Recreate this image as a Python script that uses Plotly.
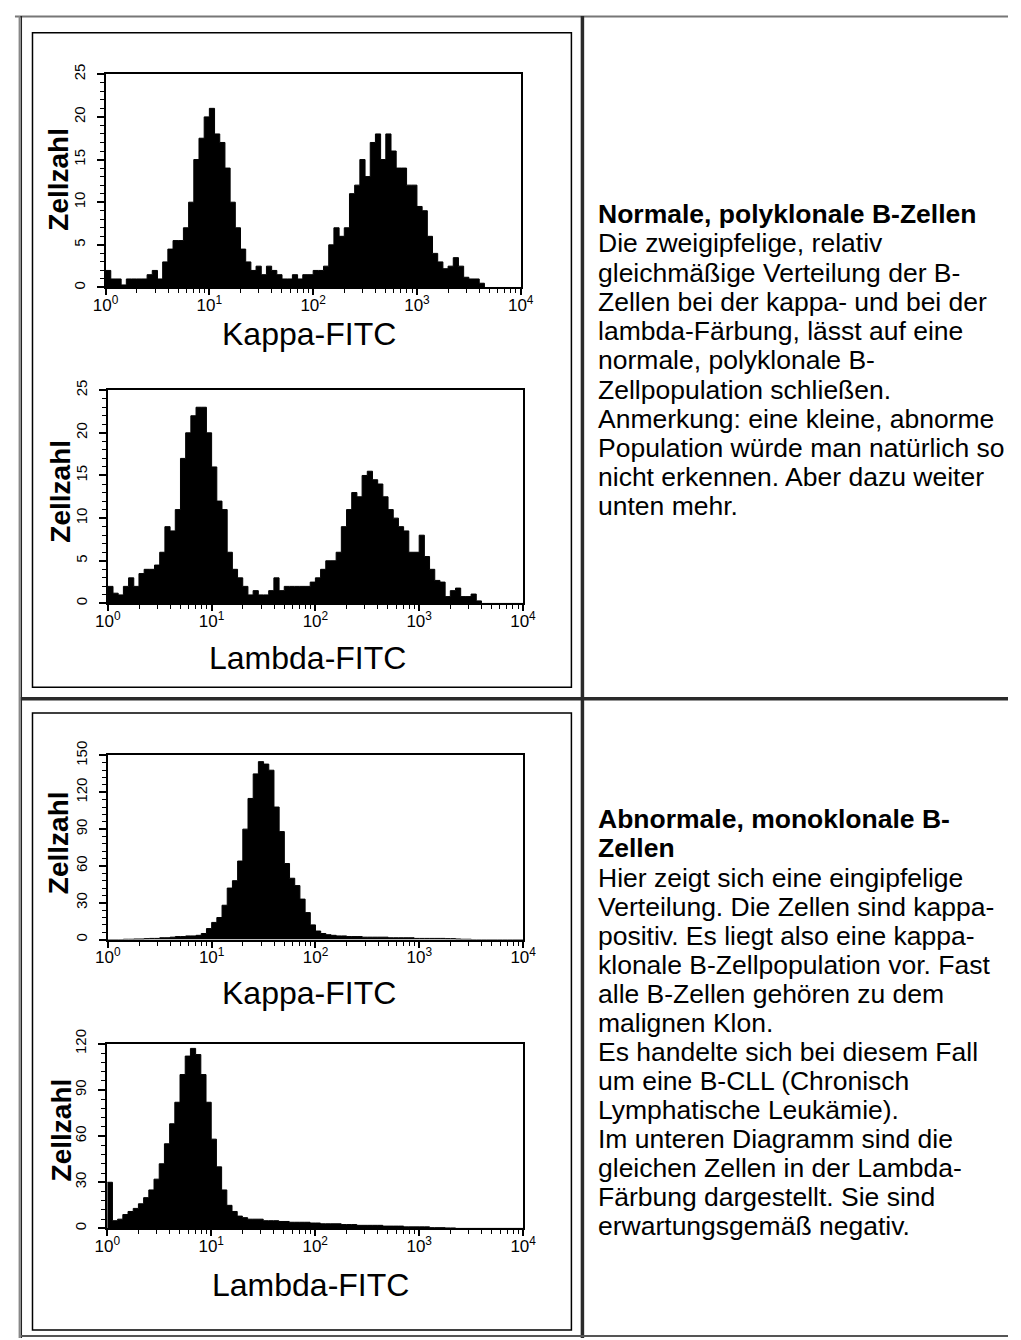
import numpy as np
import plotly.graph_objects as go

W, H = 1021, 1340

# ---------------- data (counts per channel, channels of 0.05 decade from 10^0 to 10^4) ----------------
kappa_normal = [2, 1, 1, 0.3, 1, 1, 1, 1, 1.5, 2,
                1, 3, 4.5, 5.5, 5.5, 7, 10, 15, 17.5, 20,
                21, 18, 17, 14, 10, 7, 4.5, 3, 2, 2.5,
                1.5, 2.5, 2, 1.5, 1, 1, 1.5, 1, 1.5, 1.5,
                2, 2, 2.5, 5, 7, 6, 7, 11, 12, 15,
                13, 17, 18, 15, 18, 16, 14, 14, 12, 12,
                9.5, 9, 6, 4, 3, 2.2, 2.5, 3.5, 2.5, 1.2,
                1, 1, 0.5, 0, 0, 0, 0, 0, 0, 0]
lambda_normal = [2, 1.2, 1, 2, 3, 2, 3.5, 4, 4, 4.5,
                 6, 9, 8.5, 11, 17, 20, 22, 23, 23, 20,
                 16, 12, 11, 6, 4, 3, 2, 1, 1.5, 1,
                 1, 1.5, 3, 1.5, 2, 2, 2, 2, 2, 2.5,
                 3, 4, 5, 5, 6, 9, 11, 13, 12.5, 15,
                 15.5, 14.5, 14, 12.5, 11, 10, 9, 8.5, 6, 6,
                 8, 5.5, 4, 2.7, 2.5, 0.8, 1.5, 1.8, 0.8, 0.8,
                 1.1, 0.3, 0, 0, 0, 0, 0, 0, 0, 0]
kappa_cll = [0, 0, 0, 0.3, 0.3, 0.5, 0.5, 0.8, 1, 1,
             1.5, 1.5, 2, 2.5, 2.5, 3, 3, 3.5, 5, 9,
             14, 18, 28, 42, 48, 64, 90, 115, 135, 145,
             143, 138, 108, 88, 62, 50, 44, 33, 22, 12,
             7, 5, 4, 3.5, 3, 3, 2.5, 2.5, 2.5, 2,
             2, 2, 2, 2, 1.5, 1.5, 1.5, 1.5, 1.5, 1,
             1, 1, 1, 1, 1, 0.8, 0.8, 0.5, 0.3, 0.3,
             0, 0, 0, 0, 0, 0, 0, 0, 0, 0]
lambda_cll = [30, 5, 6, 9, 11, 13, 16, 20, 25, 32,
              42, 55, 68, 82, 100, 112, 117, 113, 100, 82,
              58, 40, 25, 15, 11, 8, 7, 6, 6, 6,
              5, 5, 5, 4.5, 4.5, 4, 4, 4, 4, 3.5,
              3.5, 3, 3, 3, 3, 2.5, 2.5, 2.5, 2, 2,
              2, 2, 2, 1.5, 1.5, 1.5, 1.5, 1, 1, 1,
              1, 1, 0.5, 0.5, 0.5, 0.3, 0.3, 0, 0, 0,
              0, 0, 0, 0, 0, 0, 0, 0, 0, 0]

channel_decades = 0.05
x_tickvals = [1, 10, 100, 1000, 10000]
x_ticktext = ["10<sup>0</sup>", "10<sup>1</sup>", "10<sup>2</sup>", "10<sup>3</sup>", "10<sup>4</sup>"]
x_titles = ["Kappa-FITC", "Lambda-FITC", "Kappa-FITC", "Lambda-FITC"]
y_title = "Zellzahl"
y_max = [25, 25, 150, 120]
y_major = [5, 5, 30, 30]
y_minor = [1, 1, 6, 6]

text_normal = [
    "<b>Normale, polyklonale B-Zellen</b>",
    "Die zweigipfelige, relativ",
    "gleichmäßige Verteilung der B-",
    "Zellen bei der kappa- und bei der",
    "lambda-Färbung, lässt auf eine",
    "normale, polyklonale B-",
    "Zellpopulation schließen.",
    "Anmerkung: eine kleine, abnorme",
    "Population würde man natürlich so",
    "nicht erkennen. Aber dazu weiter",
    "unten mehr.",
]
text_cll = [
    "<b>Abnormale, monoklonale B-</b>",
    "<b>Zellen</b>",
    "Hier zeigt sich eine eingipfelige",
    "Verteilung. Die Zellen sind kappa-",
    "positiv. Es liegt also eine kappa-",
    "klonale B-Zellpopulation vor. Fast",
    "alle B-Zellen gehören zu dem",
    "malignen Klon.",
    "Es handelte sich bei diesem Fall",
    "um eine B-CLL (Chronisch",
    "Lymphatische Leukämie).",
    "Im unteren Diagramm sind die",
    "gleichen Zellen in der Lambda-",
    "Färbung dargestellt. Sie sind",
    "erwartungsgemäß negativ.",
]

# ---------------- layout geometry (pixels) ----------------
# plot areas: (left, right, top, bottom)
areas = [(95, 521, 60, 276), (97.3, 523.3, 380, 596),
         (97.3, 523.5, 750, 936.5), (96.7, 523.5, 1042, 1229)]
xtitle_pos = [(304, 323), (302, 651), (304, 991), (305, 1286)]
ytitle_pos = [(47, 166), (49, 482), (47, 838), (50, 1129)]

FONT = "Liberation Sans, Arial, sans-serif"


def px(x):
    return x / W


def py(y):
    return 1 - y / H


fig = go.Figure()
series = [kappa_normal, lambda_normal, kappa_cll, lambda_cll]
minor_x = [m * 10 ** d for d in range(4) for m in range(2, 10)]

for k, vals in enumerate(series):
    n = k + 1
    sfx = "" if n == 1 else str(n)
    nb = len(vals)
    edges = 10 ** (np.arange(nb + 1) * channel_decades)
    xs = list(edges)
    ys = list(vals) + [vals[-1]]
    fig.add_trace(go.Scatter(
        x=xs, y=ys, mode="lines", line=dict(shape="hv", color="black", width=1),
        fill="tozeroy", fillcolor="black", xaxis="x" + sfx, yaxis="y" + sfx,
        showlegend=False, hoverinfo="skip"))
    l, r, t, b = areas[k]
    fig.layout["xaxis" + sfx] = dict(
        type="log", range=[0, 4], domain=[px(l), px(r)], anchor="y" + sfx,
        tickmode="array", tickvals=x_tickvals, ticktext=x_ticktext,
        ticks="outside", ticklen=6, tickwidth=1.5, tickcolor="black",
        minor=dict(tickmode="array", tickvals=minor_x, ticks="outside", ticklen=4,
                   tickwidth=1, tickcolor="black", showgrid=False),
        showline=True, linewidth=2, linecolor="black", mirror=True,
        showgrid=False, zeroline=False, ticklabelstandoff=-5,
        tickfont=dict(family=FONT, size=17, color="black"))
    fig.layout["yaxis" + sfx] = dict(
        range=[0, y_max[k]], domain=[py(b), py(t)], anchor="x" + sfx,
        tickmode="linear", tick0=0, dtick=y_major[k],
        ticks="outside", ticklen=7, tickwidth=1.5, tickcolor="black", tickangle=-90,
        minor=dict(tickmode="linear", tick0=0, dtick=y_minor[k], ticks="outside",
                   ticklen=4, tickwidth=1, tickcolor="black", showgrid=False),
        showline=True, linewidth=2, linecolor="black", mirror=True,
        showgrid=False, zeroline=False, ticklabelstandoff=6,
        tickfont=dict(family=FONT, size=15, color="black"))

annotations = []
for k in range(4):
    xt, yt = xtitle_pos[k]
    annotations.append(dict(text=x_titles[k], x=px(xt), y=py(yt), xref="paper", yref="paper",
                            xanchor="center", yanchor="middle", showarrow=False,
                            font=dict(family=FONT, size=32, color="black")))
    xy, yy = ytitle_pos[k]
    annotations.append(dict(text="<b>" + y_title + "</b>", x=px(xy), y=py(yy), xref="paper",
                            yref="paper", xanchor="center", yanchor="middle", textangle=-90,
                            showarrow=False, font=dict(family=FONT, size=28, color="black")))

for lines, y0, step in [(text_normal, 201.8, 29.6), (text_cll, 814.7, 29.45)]:
    for i, s in enumerate(lines):
        annotations.append(dict(text=s, x=px(598), y=py(y0 + i * step), xref="paper", yref="paper",
                                xanchor="left", yanchor="middle", showarrow=False,
                                font=dict(family=FONT, size=26.5, color="black")))

shapes = []


def line(x0, y0, x1, y1, w, c):
    shapes.append(dict(type="line", xref="paper", yref="paper", x0=px(x0), x1=px(x1),
                       y0=py(y0), y1=py(y1), line=dict(width=w, color=c)))


def rect(x0, y0, x1, y1, w, c):
    shapes.append(dict(type="rect", xref="paper", yref="paper", x0=px(x0), x1=px(x1),
                       y0=py(y0), y1=py(y1), line=dict(width=w, color=c)))


# table borders
line(2, 1.5, W, 1.5, 2, "#777777")
line(6.5, 1, 6.5, H, 1.5, "#888888")
line(8.5, 1, 8.5, H, 1.5, "#222222")
line(584.3, 1, 584.3, H, 3.5, "#2a2a2a")
line(8, 692.5, W, 692.5, 3.5, "#2a2a2a")
line(8, 1338, W, 1338, 2, "#555555")
# picture frames
rect(20, 18, 573, 681, 1.5, "black")
rect(20, 707, 573, 1332, 1.5, "black")

fig.update_layout(width=W, height=H, margin=dict(l=0, r=0, t=0, b=0),
                  paper_bgcolor="white", plot_bgcolor="white",
                  font=dict(family=FONT, color="black"),
                  annotations=annotations, shapes=shapes, showlegend=False)

fig.write_html("out.html", config={"displayModeBar": False},
               post_script="document.body.style.margin='0';")
